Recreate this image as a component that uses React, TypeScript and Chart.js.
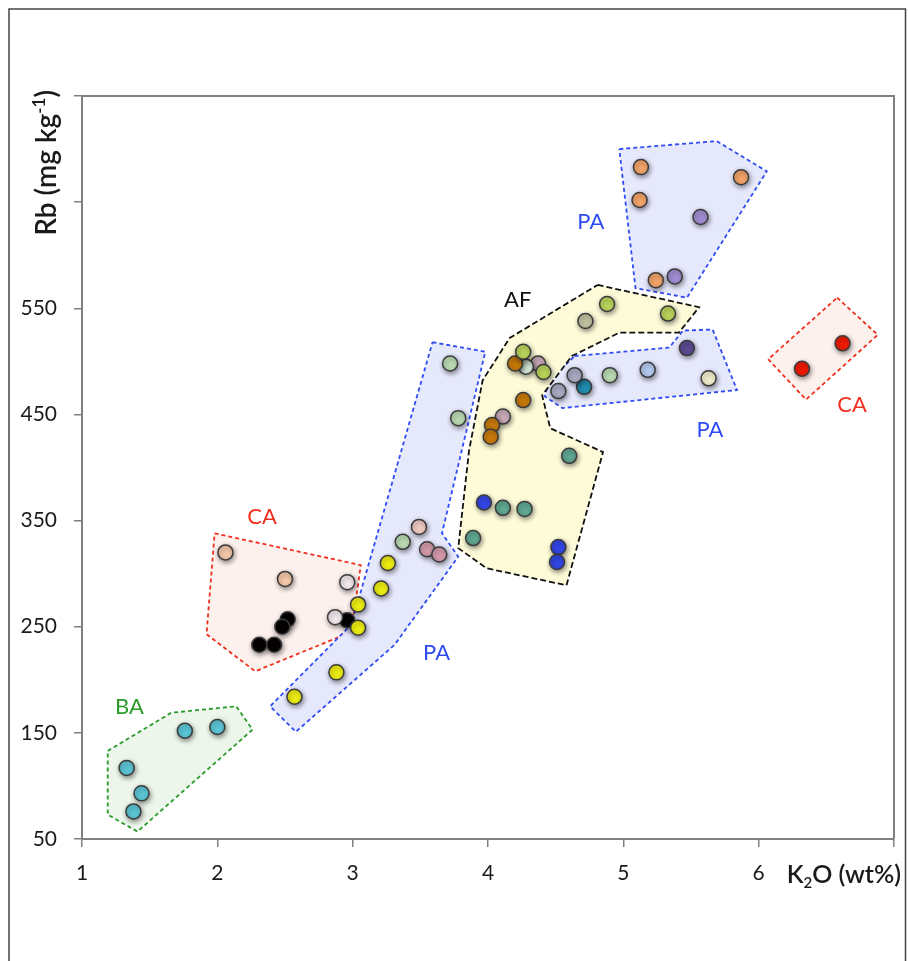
import React, { useEffect, useRef } from 'react';
import { Chart, registerables } from 'chart.js';

Chart.register(...registerables);

// ---- axis ticks ----
const xMin = 1;
const xMax = 7;
const xLastLabel = 6;
const yMin = 50;
const yMax = 750;
const yLastLabel = 550;

// ---- sample points (K2O wt%, Rb mg/kg) by colour group ----
const orangePts = [[5.13, 683], [5.12, 652], [5.87, 673.5], [5.24, 576.5]];
const lilacPts = [[5.57, 636], [5.38, 580]];
const yellowGreenPts = [[4.88, 554], [5.33, 545], [4.26, 509], [4.41, 490]];
const khakiPts = [[4.72, 538]];
const brownPts = [[4.2, 498], [4.26, 463.5], [4.03, 440], [4.02, 429]];
const mintPts = [[4.28, 495]];
const mauvePts = [[4.37, 498], [4.11, 448]];
const tealPts = [[4.6, 411], [4.11, 362], [4.27, 361], [3.89, 333.5]];
const bluePts = [[3.97, 367], [4.52, 325], [4.51, 311]];
const greyPurplePts = [[4.52, 472], [4.64, 487]];
const tealBluePts = [[4.71, 476]];
const paleGreenPts = [[4.9, 487], [3.72, 498], [3.78, 446.5], [3.37, 330]];
const lightBluePts = [[5.18, 492]];
const darkPurplePts = [[5.47, 512.5]];
const creamPts = [[5.63, 484]];
const pinkBeigePts = [[3.49, 344]];
const rosePts = [[3.55, 323], [3.64, 318]];
const yellowPts = [[3.26, 310], [3.21, 286], [3.04, 271], [3.04, 249], [2.88, 207], [2.57, 184]];
const peachPts = [[2.06, 320], [2.5, 295]];
const whitishPts = [[2.96, 292], [2.87, 259]];
const blackPts = [[2.96, 256], [2.52, 257], [2.48, 250], [2.31, 233], [2.42, 233]];
const redPts = [[6.62, 517], [6.32, 493]];
const cyanPts = [[1.76, 152], [2.0, 155.5], [1.33, 117], [1.44, 93], [1.38, 76]];

// ---- field polygons ----
const paUpperPoly = [[4.97, 700], [5.69, 707.5], [6.06, 679], [5.47, 560], [5.09, 569]];
const afPoly = [[4.81, 572], [5.56, 551], [5.41, 527], [4.97, 527], [4.62, 505], [4.4, 468], [4.46, 437], [4.85, 414.5], [4.58, 289], [3.99, 305], [3.78, 324], [3.86, 416], [3.96, 482], [4.16, 522]];
const paRightPoly = [[4.64, 505], [5.34, 513], [5.44, 529], [5.66, 530], [5.84, 473], [4.55, 456], [4.42, 467], [4.45, 482]];
const caRightPoly = [[6.58, 560], [6.88, 525], [6.35, 464], [6.07, 502]];
const paMidPoly = [[3.59, 518], [3.98, 509], [3.66, 338], [3.78, 316], [3.31, 233], [2.58, 151], [2.39, 175], [2.99, 252]];
const caLeftPoly = [[1.98, 338], [3.06, 308], [2.99, 245], [2.28, 208], [1.92, 243]];
const baPoly = [[1.19, 133], [1.66, 169], [2.14, 175], [2.26, 153], [1.41, 57], [1.19, 73]];

// ---- field labels ----
const labelNames = ['PA', 'AF', 'PA', 'CA', 'CA', 'PA', 'BA'];
const labelX = [4.76, 4.22, 5.64, 6.69, 2.33, 3.62, 1.35];
const labelY = [631, 558, 435, 459, 353, 225, 174];

const BLUE = '#2f4cf2';
const RED = '#f0301e';
const GREEN = '#2a9a2a';
const labelColors = [BLUE, '#111111', BLUE, RED, RED, BLUE, GREEN];

const pointGroups: [number[][], string][] = [
  [orangePts, '#f4a46a'],
  [lilacPts, '#a38ed4'],
  [yellowGreenPts, '#bad45a'],
  [khakiPts, '#c3c3a3'],
  [brownPts, '#c87a0a'],
  [mintPts, '#d6e9d9'],
  [mauvePts, '#cbabba'],
  [tealPts, '#60a993'],
  [bluePts, '#3347e6'],
  [greyPurplePts, '#aaaac3'],
  [tealBluePts, '#2090b2'],
  [paleGreenPts, '#badcb3'],
  [lightBluePts, '#b4caf0'],
  [darkPurplePts, '#5b4b95'],
  [creamPts, '#f2eecc'],
  [pinkBeigePts, '#f1ccc4'],
  [rosePts, '#d59bac'],
  [yellowPts, '#eeee12'],
  [peachPts, '#f7caab'],
  [whitishPts, '#f2eaed'],
  [blackPts, '#050000'],
  [redPts, '#f01a00'],
  [cyanPts, '#5cc7d7'],
];

const polygons: [number[][], string, string, number[]][] = [
  [afPoly, 'rgba(253,251,214,0.95)', '#111111', [6, 3]],
  [paUpperPoly, 'rgba(228,230,252,0.92)', BLUE, [4, 3]],
  [paRightPoly, 'rgba(228,230,252,0.92)', BLUE, [4, 3]],
  [paMidPoly, 'rgba(228,230,252,0.92)', BLUE, [4, 3]],
  [caLeftPoly, 'rgba(253,238,235,0.85)', RED, [4, 3]],
  [caRightPoly, 'rgba(253,238,235,0.85)', RED, [4, 3]],
  [baPoly, 'rgba(236,245,234,0.95)', GREEN, [4, 3]],
];

const FONT = 'Lato, "Open Sans", sans-serif';

function drawRich(ctx: CanvasRenderingContext2D, parts: { t: string; size: number; dy: number }[], x: number, y: number, weight: string) {
  let total = 0;
  for (const p of parts) {
    ctx.font = `${weight} ${p.size}px ${FONT}`;
    total += ctx.measureText(p.t).width;
  }
  let cx = x - total / 2;
  ctx.textAlign = 'left';
  ctx.textBaseline = 'alphabetic';
  for (const p of parts) {
    ctx.font = `${weight} ${p.size}px ${FONT}`;
    ctx.fillText(p.t, cx, y + p.dy);
    cx += ctx.measureText(p.t).width;
  }
  return total;
}

const nPointSets = pointGroups.length;

const decorPlugin = {
  id: 'decor',
  beforeDraw(chart: any) {
    const ctx = chart.ctx as CanvasRenderingContext2D;
    ctx.save();
    ctx.fillStyle = '#ffffff';
    ctx.fillRect(0, 0, chart.width, chart.height);
    // outer frame
    ctx.strokeStyle = '#444444';
    ctx.lineWidth = 1.5;
    ctx.beginPath();
    ctx.moveTo(9, chart.height);
    ctx.lineTo(9, 9);
    ctx.lineTo(905.5, 9);
    ctx.lineTo(905.5, chart.height);
    ctx.stroke();
    ctx.restore();
  },
  beforeDatasetDraw(chart: any, args: any) {
    if (args.index < nPointSets) {
      const ctx = chart.ctx as CanvasRenderingContext2D;
      ctx.save();
      ctx.shadowColor = 'rgba(0,0,0,0.45)';
      ctx.shadowBlur = 5;
      ctx.shadowOffsetX = 1;
      ctx.shadowOffsetY = 2;
    }
  },
  afterDatasetDraw(chart: any, args: any) {
    if (args.index < nPointSets) {
      chart.ctx.restore();
    }
  },
  afterDraw(chart: any) {
    const ctx = chart.ctx as CanvasRenderingContext2D;
    const { left, right, top, bottom } = chart.chartArea;
    const xs = chart.scales.x;
    const ys = chart.scales.y;
    ctx.save();
    // plot box top & right
    ctx.strokeStyle = '#808080';
    ctx.lineWidth = 2;
    ctx.beginPath();
    ctx.moveTo(left, top);
    ctx.lineTo(right, top);
    ctx.lineTo(right, bottom);
    ctx.stroke();

    // field labels
    ctx.font = `400 22px ${FONT}`;
    ctx.textAlign = 'center';
    ctx.textBaseline = 'middle';
    for (let i = 0; i < labelNames.length; i++) {
      ctx.fillStyle = labelColors[i];
      ctx.fillText(labelNames[i], xs.getPixelForValue(labelX[i]), ys.getPixelForValue(labelY[i]));
    }

    // x axis title
    ctx.fillStyle = '#1a1a1a';
    const xt = xs.getPixelForValue(xLastLabel);
    const parts = [
      { t: 'K', size: 25, dy: 0 },
      { t: '2', size: 15, dy: 5 },
      { t: 'O (wt%)', size: 25, dy: 0 },
    ];
    let w = 0;
    for (const p of parts) { ctx.font = `600 ${p.size}px ${FONT}`; w += ctx.measureText(p.t).width; }
    drawRich(ctx, parts, xt + 28 + w / 2, bottom + 44, '600');

    // y axis title
    ctx.translate(47, ys.getPixelForValue(687));
    ctx.rotate(-Math.PI / 2);
    drawRich(ctx, [
      { t: 'Rb (mg kg', size: 28, dy: 0 },
      { t: '-1', size: 17, dy: -11 },
      { t: ')', size: 28, dy: 0 },
    ], 0, 9, '600');
    ctx.restore();
  },
};

export default function App() {
  const ref = useRef<HTMLCanvasElement | null>(null);
  useEffect(() => {
    if (!ref.current) return;
    const datasets: any[] = [];
    for (const [pts, color] of pointGroups) {
      datasets.push({
        type: 'scatter',
        data: pts.map(([x, y]) => ({ x, y })),
        backgroundColor: color,
        borderColor: '#3b3b3b',
        borderWidth: 1.5,
        pointRadius: 7.5,
        pointHoverRadius: 7.5,
        showLine: false,
      });
    }
    for (const [pts, fill, stroke, dash] of polygons) {
      datasets.push({
        type: 'line',
        data: [...pts, pts[0]].map(([x, y]) => ({ x, y })),
        backgroundColor: fill,
        borderColor: stroke,
        borderDash: dash,
        borderWidth: 1.8,
        fill: 'shape',
        pointRadius: 0,
        tension: 0,
      });
    }
    const chart = new Chart(ref.current, {
      type: 'scatter',
      data: { datasets },
      plugins: [decorPlugin],
      options: {
        animation: false,
        responsive: true,
        maintainAspectRatio: false,
        events: [],
        layout: { padding: { left: 0, right: 13, top: 96, bottom: 0 } },
        plugins: { legend: { display: false }, tooltip: { enabled: false } },
        scales: {
          x: {
            type: 'linear',
            min: xMin,
            max: xMax,
            afterFit: (s: any) => { s.height = 122; },
            grid: { drawOnChartArea: false, drawTicks: true, tickLength: 8, color: '#808080', lineWidth: 1.5 },
            border: { color: '#808080', width: 2 },
            ticks: {
              stepSize: 1,
              padding: 14,
              color: '#1a1a1a',
              font: { family: FONT, size: 21, weight: '400' },
              callback: (v: any) => (v <= xLastLabel ? String(v) : ''),
            },
          },
          y: {
            type: 'linear',
            min: yMin,
            max: yMax,
            afterFit: (s: any) => { s.width = 82; },
            grid: { drawOnChartArea: false, drawTicks: true, tickLength: 8, color: '#808080', lineWidth: 1.5 },
            border: { color: '#808080', width: 2 },
            ticks: {
              stepSize: 100,
              padding: 17,
              color: '#1a1a1a',
              font: { family: FONT, size: 21, weight: '400' },
              callback: (v: any) => (v <= yLastLabel ? String(v) : ''),
            },
          },
        },
      },
    });
    return () => chart.destroy();
  }, []);
  return (
    <div style={{ position: 'absolute', left: 0, top: 0, width: 908, height: 961, overflow: 'hidden' }}>
      <canvas ref={ref} />
    </div>
  );
}
